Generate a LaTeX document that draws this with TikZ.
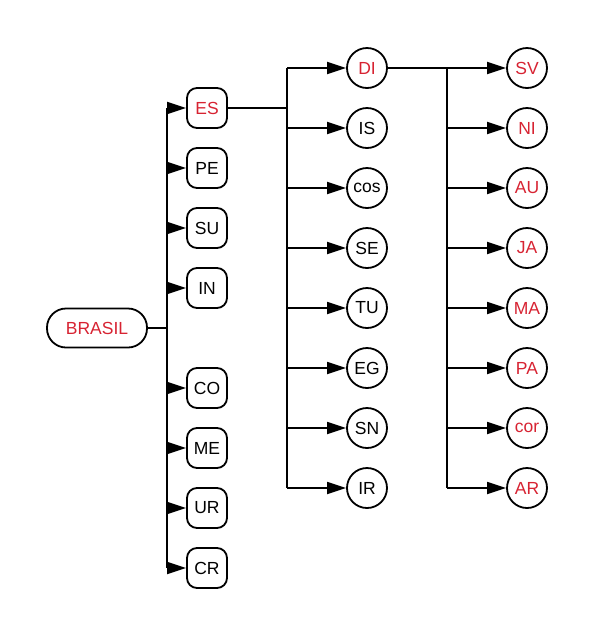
\documentclass[tikz,border=0pt]{standalone}
\usepackage{fontspec}
\setmainfont{Liberation Sans}
\usepackage{xcolor}
\usetikzlibrary{arrows.meta}
\definecolor{redtext}{RGB}{215,35,50}

\begin{document}
\begin{tikzpicture}[x=1pt,y=-1pt,line width=1.8pt,
		font=\fontsize{17.5}{19}\selectfont,
		arr/.style={-{Triangle[length=19pt,width=12pt]}},
		root/.style={draw,rectangle,rounded corners=19pt,minimum width=100pt,minimum height=39pt,inner sep=0pt},
		box/.style={draw,rectangle,rounded corners=10pt,minimum width=40pt,minimum height=40pt,inner sep=0pt},
		disc/.style={draw,circle,minimum size=40pt,inner sep=0pt},
		red/.style={text=redtext}]
		\useasboundingbox (0,0) rectangle (594,638);
		% root
		\node[root,red] (BRASIL) at (97,328) {BRASIL};
		% first column
		\node[box,red] (ES) at (207,108) {ES};
		\node[box] (PE) at (207,168) {PE};
		\node[box] (SU) at (207,228) {SU};
		\node[box] (IN) at (207,288) {IN};
		\node[box] (CO) at (207,388) {CO};
		\node[box] (ME) at (207,448) {ME};
		\node[box] (UR) at (207,508) {UR};
		\node[box] (CR) at (207,568) {CR};
		% second column
		\node[disc,red] (DI) at (367,68) {DI};
		\node[disc] (IS) at (367,128) {IS};
		\node[disc] (cos) at (367,188) {cos};
		\node[disc] (SE) at (367,248) {SE};
		\node[disc] (TU) at (367,308) {TU};
		\node[disc] (EG) at (367,368) {EG};
		\node[disc] (SN) at (367,428) {SN};
		\node[disc] (IR) at (367,488) {IR};
		% third column
		\node[disc,red] (SV) at (527,68) {SV};
		\node[disc,red] (NI) at (527,128) {NI};
		\node[disc,red] (AU) at (527,188) {AU};
		\node[disc,red] (JA) at (527,248) {JA};
		\node[disc,red] (MA) at (527,308) {MA};
		\node[disc,red] (PA) at (527,368) {PA};
		\node[disc,red] (cor) at (527,428) {cor};
		\node[disc,red] (AR) at (527,488) {AR};
		% buses
		\coordinate (busA) at (167,0);
		\coordinate (busB) at (287,0);
		\coordinate (busC) at (447,0);
		\draw (BRASIL) -- (BRASIL -| busA);
		\draw (busA |- ES) -- (busA |- CR);
		\draw (ES) -- (ES -| busB);
		\draw (busB |- DI) -- (busB |- IR);
		\draw (DI) -- (DI -| busC);
		\draw (busC |- SV) -- (busC |- AR);
		% arrows to first column
		\draw[arr] (busA |- ES) -- (ES);
		\draw[arr] (busA |- PE) -- (PE);
		\draw[arr] (busA |- SU) -- (SU);
		\draw[arr] (busA |- IN) -- (IN);
		\draw[arr] (busA |- CO) -- (CO);
		\draw[arr] (busA |- ME) -- (ME);
		\draw[arr] (busA |- UR) -- (UR);
		\draw[arr] (busA |- CR) -- (CR);
		% arrows to second column
		\draw[arr] (busB |- DI) -- (DI);
		\draw[arr] (busB |- IS) -- (IS);
		\draw[arr] (busB |- cos) -- (cos);
		\draw[arr] (busB |- SE) -- (SE);
		\draw[arr] (busB |- TU) -- (TU);
		\draw[arr] (busB |- EG) -- (EG);
		\draw[arr] (busB |- SN) -- (SN);
		\draw[arr] (busB |- IR) -- (IR);
		% arrows to third column
		\draw[arr] (busC |- SV) -- (SV);
		\draw[arr] (busC |- NI) -- (NI);
		\draw[arr] (busC |- AU) -- (AU);
		\draw[arr] (busC |- JA) -- (JA);
		\draw[arr] (busC |- MA) -- (MA);
		\draw[arr] (busC |- PA) -- (PA);
		\draw[arr] (busC |- cor) -- (cor);
		\draw[arr] (busC |- AR) -- (AR);
	\end{tikzpicture}
\end{document}
